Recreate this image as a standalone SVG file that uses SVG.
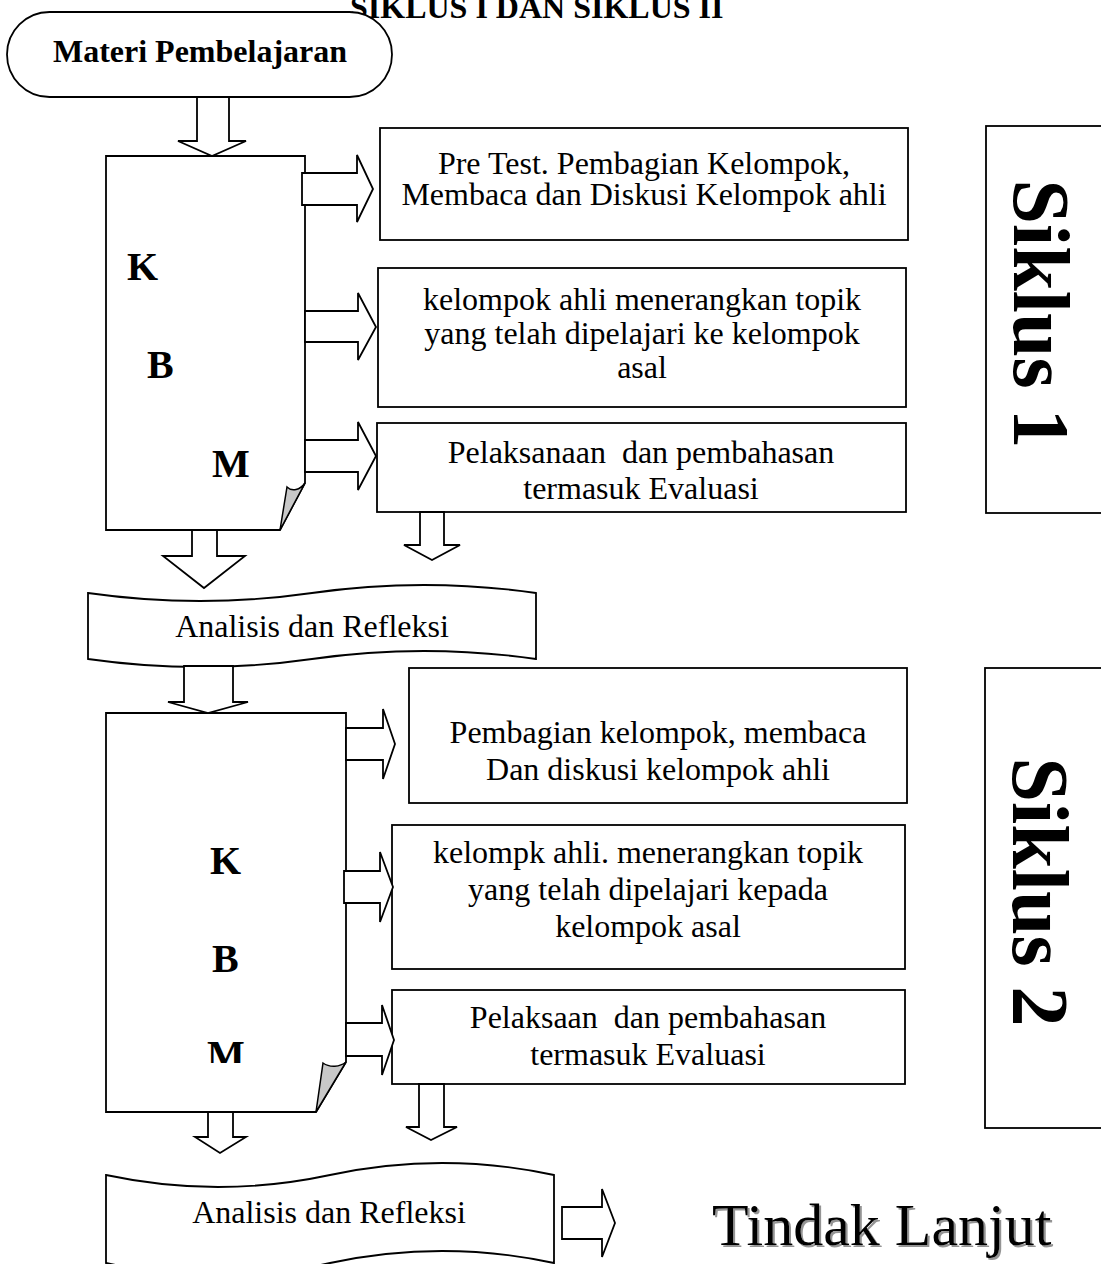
<svg xmlns="http://www.w3.org/2000/svg" width="1101" height="1264" viewBox="0 0 1101 1264">
  <style>
    .shape { fill: #ffffff; stroke: #000000; stroke-width: 1.8; stroke-linejoin: miter; }
    .arrow { fill: #ffffff; stroke: #000000; stroke-width: 1.8; stroke-linejoin: miter; }
    .curl { fill: #c8c8c8; stroke: #000000; stroke-width: 1.5; }
    .txt { font-family: "Liberation Serif", "Times New Roman", serif; font-size: 32px; fill: #000000; text-anchor: middle; }
    .bold { font-family: "Liberation Serif", "Times New Roman", serif; font-weight: bold; fill: #000000; }
    .kbm { font-size: 40px; }
    .siklus { font-size: 80px; text-anchor: middle; }
  </style>
  <defs>
    <clipPath id="clipM2">
      <rect x="150" y="1000" width="150" height="63"/>
    </clipPath>
    <filter id="shadow" x="-5%" y="-20%" width="110%" height="140%">
      <feDropShadow dx="2" dy="2" stdDeviation="0.6" flood-color="#888888" flood-opacity="0.9"/>
    </filter>
  </defs>
  <rect x="0" y="0" width="1101" height="1264" fill="#ffffff"/>

  <g id="title">
    <text class="bold" x="350" y="18" font-size="32">SIKLUS I DAN SIKLUS II</text>
  </g>

  <g id="materi">
    <rect class="shape" x="7" y="12" width="385" height="85" rx="42.5" ry="42.5"/>
    <text class="bold" x="200" y="62" font-size="32" text-anchor="middle">Materi Pembelajaran</text>
  </g>

  <g id="kbm1">
    <path class="shape" d="M106,156 H305 V483 L280,530 H106 Z"/>
    <path class="curl" d="M305,483 L280,530 L287,487 C292,492 300,490 305,483 Z"/>
    <text class="bold kbm" x="127" y="280">K</text>
    <text class="bold kbm" x="147" y="378">B</text>
    <text class="bold kbm" x="212" y="477">M</text>
  </g>

  <g id="box1">
    <rect class="shape" x="380" y="128" width="528" height="112"/>
    <text class="txt" x="644" y="174">Pre Test. Pembagian Kelompok,</text>
    <text class="txt" x="644" y="205">Membaca dan Diskusi Kelompok ahli</text>
  </g>

  <g id="box2">
    <rect class="shape" x="378" y="268" width="528" height="139"/>
    <text class="txt" x="642" y="310">kelompok ahli menerangkan topik</text>
    <text class="txt" x="642" y="344">yang telah dipelajari ke kelompok</text>
    <text class="txt" x="642" y="378">asal</text>
  </g>

  <g id="box3">
    <rect class="shape" x="377" y="423" width="529" height="89"/>
    <text class="txt" x="641" y="463" xml:space="preserve">Pelaksanaan  dan pembahasan</text>
    <text class="txt" x="641" y="499">termasuk Evaluasi</text>
  </g>

  <g id="siklus1">
    <rect class="shape" x="986" y="126" width="130" height="387"/>
    <text class="bold siklus" transform="translate(1014,314) rotate(90)">Siklus 1</text>
  </g>

  <g id="analisis1">
    <path class="shape" d="M88,593 Q200,609 312,593 Q424,577 536,593 L536,659 Q424,643 312,659 Q200,675 88,659 Z"/>
    <text class="txt" x="312" y="637">Analisis dan Refleksi</text>
  </g>

  <g id="kbm2">
    <path class="shape" d="M106,713 H346 V1062 L316,1112 H106 Z"/>
    <path class="curl" d="M346,1062 L316,1112 L323,1063 C330,1068 340,1067 346,1062 Z"/>
    <text class="bold kbm" x="210" y="874">K</text>
    <text class="bold kbm" x="212" y="972">B</text>
    <text class="bold kbm" x="207" y="1068" clip-path="url(#clipM2)">M</text>
  </g>

  <g id="boxA">
    <rect class="shape" x="409" y="668" width="498" height="135"/>
    <text class="txt" x="658" y="743">Pembagian kelompok, membaca</text>
    <text class="txt" x="658" y="780">Dan diskusi kelompok ahli</text>
  </g>

  <g id="boxB">
    <rect class="shape" x="392" y="825" width="513" height="144"/>
    <text class="txt" x="648" y="863">kelompk ahli. menerangkan topik</text>
    <text class="txt" x="648" y="900">yang telah dipelajari kepada</text>
    <text class="txt" x="648" y="937">kelompok asal</text>
  </g>

  <g id="boxC">
    <rect class="shape" x="392" y="990" width="513" height="94"/>
    <text class="txt" x="648" y="1028" xml:space="preserve">Pelaksaan  dan pembahasan</text>
    <text class="txt" x="648" y="1065">termasuk Evaluasi</text>
  </g>

  <g id="siklus2">
    <rect class="shape" x="985" y="668" width="130" height="460"/>
    <text class="bold siklus" transform="translate(1013,892) rotate(90)">Siklus 2</text>
  </g>

  <g id="analisis2">
    <path class="shape" d="M106,1175 Q218,1199 330,1175 Q442,1151 554,1175 L554,1263 Q442,1239 330,1263 Q218,1287 106,1263 Z"/>
    <text class="txt" x="329" y="1223">Analisis dan Refleksi</text>
  </g>

  <g id="tindak-lanjut">
    <text x="712" y="1245" font-family="'Liberation Serif', 'Times New Roman', serif" font-size="60" fill="#000000" filter="url(#shadow)">Tindak Lanjut</text>
  </g>

  <g id="connectors">
    <polygon class="arrow" points="197,97 197,141 178,141 212,156 246,141 229,141 229,97"/>
    <polygon class="arrow" points="302,173 357,173 357,155 373,189 357,222 357,205 302,205"/>
    <polygon class="arrow" points="305,311 358,311 358,293 376,327 358,360 358,342 305,342"/>
    <polygon class="arrow" points="305,440 358,440 358,422 376,456 358,490 358,472 305,472"/>
    <polygon class="arrow" points="420,512 420,545 404,545 432,560 460,545 444,545 444,512"/>
    <polygon class="arrow" points="192,530 192,556 163,556 204,588 245,556 217,556 217,530"/>
    <polygon class="arrow" points="184,666 184,702 168,702 208,713 248,702 233,702 233,666"/>
    <polygon class="arrow" points="346,728 383,728 383,709 395,744 383,779 383,760 346,760"/>
    <polygon class="arrow" points="344,871 380,871 380,852 393,887 380,922 380,903 344,903"/>
    <polygon class="arrow" points="346,1023 382,1023 382,1005 394,1040 382,1075 382,1056 346,1056"/>
    <polygon class="arrow" points="419,1084 419,1127 406,1127 431,1140 457,1127 444,1127 444,1084"/>
    <polygon class="arrow" points="208,1112 208,1137 195,1137 220,1153 246,1137 233,1137 233,1112"/>
    <polygon class="arrow" points="562,1207 602,1207 602,1189 615,1223 602,1257 602,1239 562,1239"/>
  </g>
</svg>
